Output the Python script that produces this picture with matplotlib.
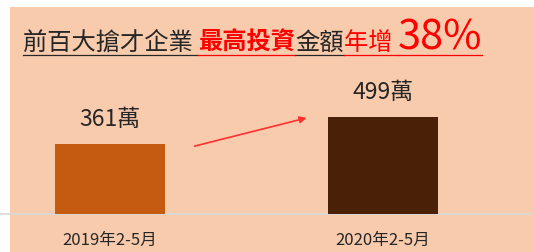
import matplotlib
matplotlib.use('Agg')
import matplotlib.pyplot as plt
from matplotlib.patches import Rectangle
from matplotlib.lines import Line2D

plt.rcParams['font.family'] = ['Noto Sans CJK TC', 'DejaVu Sans']

categories = ['2019年2-5月', '2020年2-5月']
values = [361, 499]
labels = ['361萬', '499萬']
bar_colors = ['#C55A11', '#4A2106']

title_parts = [
    ('前百大搶才企業 ', '#262626', 'normal', 17.5),
    ('最高投資', '#FF0000', 'bold', 17.5),
    ('金額', '#262626', 'normal', 17.5),
    ('年增 ', '#FF0000', 'normal', 17.5),
    ('38%', '#FF0000', 'normal', 30),
]

W, H = 534, 252
fig = plt.figure(figsize=(W / 100, H / 100), dpi=100)
fig.patch.set_facecolor('white')

# peach panel
fig.patches.append(Rectangle((10 / W, 0), 1, (H - 7) / H, transform=fig.transFigure,
                             facecolor='#F8CBAD', edgecolor='none', zorder=-10))

# baseline
fig.lines.append(Line2D([0, 531 / W], [(H - 214) / H] * 2, transform=fig.transFigure,
                        color='#D9D9D9', lw=1.2, zorder=-5))

ax = fig.add_axes([10 / W, (H - 214) / H, 524 / W, 207 / H])
ax.patch.set_alpha(0)
x = [0, 1]
ax.bar(x, values, width=0.403, color=bar_colors, zorder=3)
ax.set_xlim((10 - 110) / 273, (534 - 110) / 273)
ax.set_ylim(0, 207 / 70 * 361)
for s in ax.spines.values():
    s.set_visible(False)
ax.set_yticks([])
ax.set_xticks(x)
ax.set_xticklabels(categories, fontsize=12, color='#262626')
ax.tick_params(axis='x', length=0, pad=13)

for xi, v, lab in zip(x, values, labels):
    ax.annotate(lab, (xi, v), xytext=(0, 18), textcoords='offset points',
                ha='center', va='center', fontsize=16.5, color='#262626')

# arrow between bars
ax.annotate('', xy=(x[1] - 0.27, values[1]), xytext=(x[0] + 0.30, values[0] * 0.96),
            arrowprops=dict(arrowstyle='-|>', color='#FF3030', lw=1.2, mutation_scale=10))

# title with mixed styles
fig.canvas.draw()
renderer = fig.canvas.get_renderer()
px = 23
base_y = (H - 50) / H
segs = []
for txt, col, wt, fs in title_parts:
    t = fig.text(px / W, base_y, txt, color=col, fontweight=wt, fontsize=fs,
                 ha='left', va='baseline')
    bb = t.get_window_extent(renderer)
    segs.append((px, px + bb.width, col))
    px += bb.width
for x0, x1, col in segs:
    fig.lines.append(Line2D([x0 / W, x1 / W], [(H - 55) / H] * 2, transform=fig.transFigure,
                            color=col, lw=0.9))

fig.savefig('out.png', dpi=100)
